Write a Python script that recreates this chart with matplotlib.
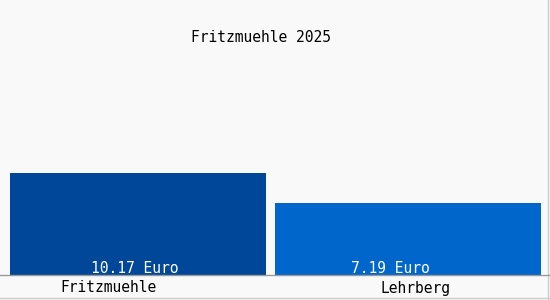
import matplotlib
matplotlib.use('Agg')
import matplotlib.pyplot as plt

# Chart data
title = 'Fritzmuehle 2025'
places = ['Fritzmuehle', 'Lehrberg']
prices = [10.17, 7.19]
value_labels = ['10.17 Euro', '7.19 Euro']

# Layout (pixel units of a 550x300 canvas)
bar_left = [10, 275]
bar_width = [256, 266]
bar_colors = ['#00479a', '#0066cc']
value_x = [135, 390]
name_x = [108, 415]

plt.rcParams['font.family'] = ['DejaVu Sans Mono']

fig = plt.figure(figsize=(5.5, 3.0), dpi=100)
fig.patch.set_facecolor('#f9f9f9')
ax = fig.add_axes([0, 0, 1, 1])
ax.set_facecolor('#f9f9f9')
ax.set_xlim(0, 550)
ax.set_ylim(-2.5, 27.5)
ax.axis('off')

ax.bar(bar_left, prices, width=bar_width, align='edge', color=bar_colors,
       zorder=2)
ax.axhline(0, color='#999999', lw=1, zorder=3)

for x, lab in zip(value_x, value_labels):
    ax.text(x, 0.65, lab, color='white', ha='center', va='center',
            fontsize=10.5, zorder=4)
for x, lab in zip(name_x, places):
    ax.text(x, -1.3, lab, color='black', ha='center', va='center',
            fontsize=10.5)

ax.text(261, 23.7, title, ha='center', va='center', fontsize=10.5)

# thin frame on right and bottom edges
ax.plot([547.5, 547.5], [-2.5, 27.5], color='#cccccc', lw=1,
        clip_on=False)
ax.plot([0, 550], [-2.25, -2.25], color='#cccccc', lw=1, clip_on=False)

fig.savefig('out.png', dpi=100, facecolor=fig.get_facecolor())
